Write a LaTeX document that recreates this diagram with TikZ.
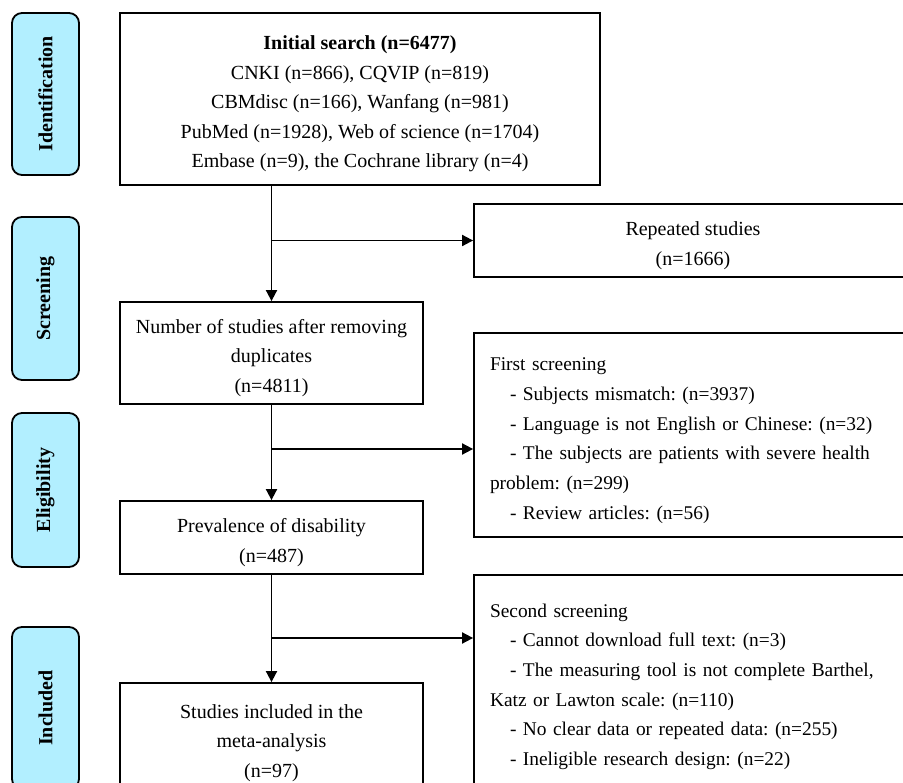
\documentclass[tikz,border=0pt]{standalone}
\usepackage{fontspec}
\setmainfont{Liberation Serif}
\usetikzlibrary{arrows.meta}
\definecolor{stagecyan}{RGB}{178,239,255}
\newcommand{\topstrut}{\rule{0pt}{24pt}}
\frenchspacing

\begin{document}
\begin{tikzpicture}[x=1pt, y=-1pt, line width=1.8pt, >={Triangle[length=11pt,width=11pt]},
  every node/.style={font=\fontsize{20pt}{29.5pt}\selectfont},
  stage/.style={draw, fill=stagecyan, rounded corners=10pt, rotate=90, minimum height=67pt,
    font=\bfseries\fontsize{20pt}{29.5pt}\selectfont},
  box/.style={draw, align=center, inner sep=0pt},
  listbox/.style={draw, align=left, inner xsep=16pt, inner ysep=0pt, text width=406pt,
    font=\fontsize{19.4pt}{29.7pt}\selectfont}]
\useasboundingbox (0,0) rectangle (903,783);
\clip (0,0) rectangle (903,783);

\node[stage, minimum width=162pt] (ident) at (45.5,94) {Identification};
\node[stage, minimum width=163pt] (screen) at (45.5,298.5) {Screening};
\node[stage, minimum width=154pt] (elig) at (45.5,490) {Eligibility};
\node[stage, minimum width=162pt] (incl) at (45.5,708) {Included};

\node[box, minimum width=480pt, minimum height=172pt] (search) at (360,99) {\topstrut\textbf{Initial search (n=6477)}\\CNKI (n=866), CQVIP (n=819)\\CBMdisc (n=166), Wanfang (n=981)\\PubMed (n=1928), Web of science (n=1704)\\Embase (n=9), the Cochrane library (n=4)};
\node[box, minimum width=438pt, minimum height=73pt] (repeat) at (693,240.5) {\topstrut Repeated studies\\(n=1666)};
\node[box, minimum width=303pt, minimum height=102pt] (dedup) at (271.5,353) {\topstrut Number of studies after removing\\duplicates\\(n=4811)};
\node[listbox, minimum height=204pt] (first) at (693,435) {\topstrut First screening\\\hspace*{20pt}- Subjects mismatch: (n=3937)\\\hspace*{20pt}- Language is not English or Chinese: (n=32)\\\hspace*{20pt}- The subjects are patients with severe health\\problem: (n=299)\\\hspace*{20pt}- Review articles: (n=56)};
\node[box, minimum width=303pt, minimum height=73pt] (preval) at (271.5,537.5) {\topstrut Prevalence of disability\\(n=487)};
\node[listbox, minimum height=213pt] (second) at (693,681.5) {\topstrut Second screening\\\hspace*{20pt}- Cannot download full text: (n=3)\\\hspace*{20pt}- The measuring tool is not complete Barthel,\\Katz or Lawton scale: (n=110)\\\hspace*{20pt}- No clear data or repeated data: (n=255)\\\hspace*{20pt}- Ineligible research design: (n=22)};
\node[box, minimum width=303pt, minimum height=110pt] (final) at (271.5,738) {\topstrut Studies included in the\\meta-analysis\\(n=97)};

\coordinate (j2) at (271.5,449);
\coordinate (j3) at (271.5,638);
\draw[->] (search.south -| dedup.north) -- (dedup.north);
\draw[->] (repeat.west -| dedup.north) -- (repeat.west);
\draw[->] (dedup) -- (preval);
\draw[->] (j2) -- (j2 -| first.west);
\draw[->] (preval) -- (final);
\draw[->] (j3) -- (j3 -| second.west);
\end{tikzpicture}
\end{document}
